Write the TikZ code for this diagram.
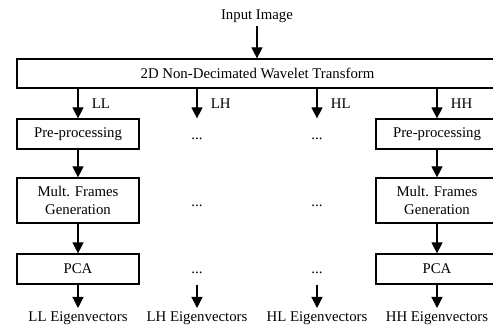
\documentclass[tikz,border=0pt]{standalone}
\usepackage{fontspec}
\setmainfont{Liberation Serif}
\usetikzlibrary{arrows.meta,positioning}

\begin{document}
\begin{tikzpicture}[x=1pt,y=-1pt,line width=1.2pt,
	font=\fontsize{14.8}{18}\selectfont,
	box/.style={draw, minimum width=122pt, minimum height=30pt, inner sep=0pt, align=center},
	dots/.style={anchor=base},
	arr/.style={-{Triangle[length=11pt,width=11pt]}},
	band/.style={right, xshift=10pt}]
	\useasboundingbox (0,0) rectangle (493,331);
	%
	\node (input) at (257,16) {Input Image};
	\node[box, minimum width=481pt, minimum height=29pt] (ndwt) at (257.5,73.5) {2D Non-Decimated Wavelet Transform};
	\draw[arr] (input) -- (input |- ndwt.north);
	%
	\node[box] (prell) at (78,134) {Pre-processing};
	\node[box, minimum height=45pt] (multll) at (78,200.5) {Mult. Frames\\Generation};
	\node[box] (pcall) at (78,269) {PCA};
	\node[anchor=north] (eigll) at (78,308) {LL Eigenvectors};
	%
	\node[box] (prehh) at (437,134) {Pre-processing};
	\node[box, minimum height=45pt] (multhh) at (437,200.5) {Mult. Frames\\Generation};
	\node[box] (pcahh) at (437,269) {PCA};
	\node[anchor=north] (eighh) at (437,308) {HH Eigenvectors};
	%
	\node[dots] (prelh) at (197,140) {...};
	\node[dots] (multlh) at (197,207) {...};
	\node[dots] (pcalh) at (197,274) {...};
	\node[anchor=north] (eiglh) at (197,308) {LH Eigenvectors};
	%
	\node[dots] (prehl) at (317,140) {...};
	\node[dots] (multhl) at (317,207) {...};
	\node[dots] (pcahl) at (317,274) {...};
	\node[anchor=north] (eighl) at (317,308) {HL Eigenvectors};
	%
	\draw[arr] (prell |- ndwt.south) -- node[band] {LL} (prell);
	\draw[arr] (prelh |- ndwt.south) -- node[band] {LH} (prelh |- prell.north);
	\draw[arr] (prehl |- ndwt.south) -- node[band] {HL} (prehl |- prell.north);
	\draw[arr] (prehh |- ndwt.south) -- node[band] {HH} (prehh);
	%
	\draw[arr] (prell) -- (multll);
	\draw[arr] (multll) -- (pcall);
	\draw[arr] (pcall) -- (eigll);
	\draw[arr] (prehh) -- (multhh);
	\draw[arr] (multhh) -- (pcahh);
	\draw[arr] (pcahh) -- (eighh);
	%
	\draw[arr] (eiglh |- pcall.south) -- (eiglh);
	\draw[arr] (eighl |- pcall.south) -- (eighl);
\end{tikzpicture}
\end{document}
